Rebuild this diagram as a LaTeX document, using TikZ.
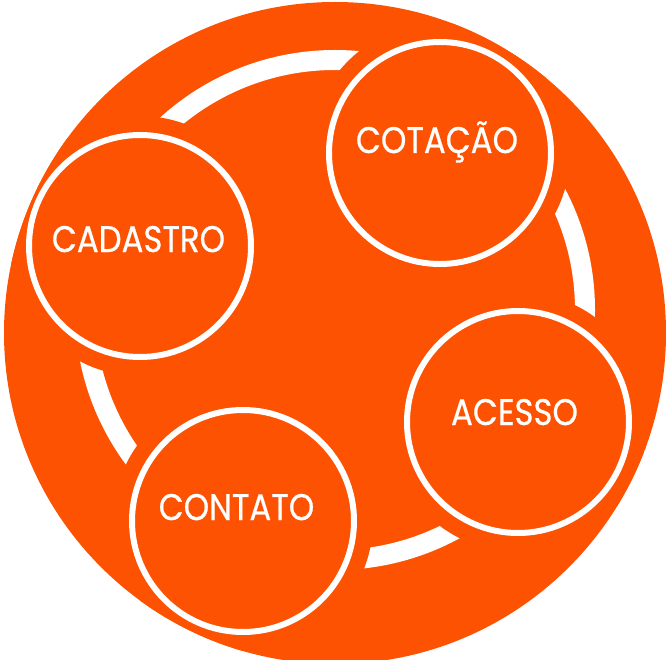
\documentclass[tikz,border=0pt]{standalone}
\usepackage{fontspec}
\setmainfont{Poppins}
\newfontfamily\lblfont[FakeBold=0.6]{Poppins}
\newcommand{\lbltext}[1]{\scalebox{0.875}[1]{\lblfont #1}}
\definecolor{org}{RGB}{252,82,2}
\begin{document}
\begin{tikzpicture}[x=1pt,y=-1pt,
  stage/.style={circle,draw=white,line width=6pt,minimum size=222pt,inner sep=0pt},
  lbl/.style={text=white,font=\fontsize{37}{37}\selectfont,inner sep=0pt,anchor=base}]
\useasboundingbox (0,0) rectangle (666,660);
\fill[org] (335,333) circle (331pt);
\begin{scope}
  \clip (335,333) circle (331pt);
  \draw[white,line width=20pt] (335,310) circle (250pt);
  \foreach \p in {(440,153),(140,246),(518,422),(243,521)}
    \fill[org] \p circle (130pt);
\end{scope}
\node[stage] (cot) at (440,153) {};
\node[stage] (cad) at (140,246) {};
\node[stage] (ace) at (518,422) {};
\node[stage] (con) at (243,521) {};
\node[lbl] (tcot) at (437,153) {\lbltext{COTAÇÃO}};
\node[lbl] (tcad) at (138.5,252) {\lbltext{CADASTRO}};
\node[lbl] (tace) at (514.5,425) {\lbltext{ACESSO}};
\node[lbl] (tcon) at (236.5,520) {\lbltext{CONTATO}};
\end{tikzpicture}
\end{document}
